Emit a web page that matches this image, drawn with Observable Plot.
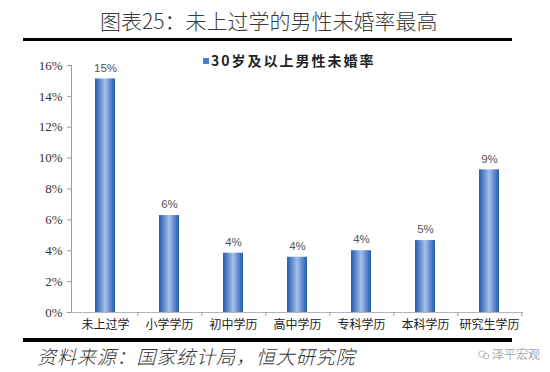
<!DOCTYPE html>
<html><head><meta charset="utf-8">
<script src="https://cdn.jsdelivr.net/npm/d3@7"></script>
<script src="https://cdn.jsdelivr.net/npm/@observablehq/plot@0.6"></script>
<style>
body{margin:0;background:#fff;}
#wrap{position:relative;width:550px;height:372px;overflow:hidden;font-family:"Noto Sans CJK SC",sans-serif;background:#fff;}
#title{position:absolute;left:100px;top:9px;font-size:21px;line-height:22px;color:#3a3a3a;font-weight:300;white-space:nowrap;}
.rule{position:absolute;left:23px;width:489px;height:3px;background:#000;}
#chart{position:absolute;left:0;top:44px;}
#legend{position:absolute;left:203px;top:51px;font-size:14px;line-height:18px;font-weight:700;color:#222;letter-spacing:2px;white-space:nowrap;}
#legend .sw{display:inline-block;width:6px;height:6px;background:#4f7fc2;margin-right:2px;vertical-align:2px;}
#caption{position:absolute;left:37px;top:344px;font-size:19px;line-height:24px;font-style:italic;font-weight:300;color:#333;letter-spacing:0.9px;white-space:nowrap;}
#wm{position:absolute;left:478px;top:346px;font-size:12px;line-height:16px;color:#aaa;white-space:nowrap;}
</style></head><body>
<div id="wrap">
  <div id="title">图表25：未上过学的男性未婚率最高</div>
  <div class="rule" style="top:38px"></div>
  <div id="chart"></div>
  <div id="legend"><span class="sw"></span>30岁及以上男性未婚率</div>
  <div class="rule" style="top:338px;height:4px"></div>
  <div id="caption">资料来源：国家统计局，恒大研究院</div>
  <div id="wm"><svg width="12" height="10" style="vertical-align:-1px;margin-right:2px"><circle cx="4" cy="4" r="3.2" fill="none" stroke="#bbb"/><circle cx="8" cy="6" r="2.8" fill="none" stroke="#bbb"/></svg>泽平宏观</div>
</div>
<script>
const categories = ["未上过学","小学学历","初中学历","高中学历","专科学历","本科学历","研究生学历"];
const rates = [0.1513, 0.0628, 0.0384, 0.0358, 0.0400, 0.0466, 0.0924];
const yTicks = [0, 0.02, 0.04, 0.06, 0.08, 0.10, 0.12, 0.14, 0.16];

const data = categories.map((c, i) => ({c, v: rates[i]}));
const W = 550, H = 292, ml = 71, mr = 27, mt = 21, mb = 24;
const step = (W - ml - mr) / categories.length;
const pct = d3.format(".0%");

const chart = Plot.plot({
  width: W, height: H,
  marginLeft: ml, marginRight: mr, marginTop: mt, marginBottom: mb,
  style: {background: "transparent", fontFamily: "'Noto Sans CJK SC', sans-serif", overflow: "visible"},
  x: {domain: categories, paddingInner: 0.69, paddingOuter: 0.345, label: null},
  y: {domain: [0, 0.16], label: null},
  marks: [
    Plot.frame({anchor: "left", stroke: "#9a9a9a"}),
    Plot.ruleY([0], {stroke: "#b5b5b5"}),
    Plot.axisY({ticks: yTicks, tickFormat: pct, tickSize: 4, tickPadding: 5, stroke: "#9a9a9a", fill: "#333", fontSize: 13, fontFamily: "'Liberation Serif', serif"}),
    Plot.axisX({tickSize: 4, tickFormat: () => "", dx: step / 2, stroke: "#9a9a9a"}),
    Plot.axisX({tickSize: 0, tickPadding: 8, fill: "#222", fontSize: 12}),
    Plot.barY(data, {x: "c", y: "v", fill: "url(#barGrad)"}),
    Plot.text(data, {x: "c", y: "v", text: d => pct(d.v), dy: -11, fontSize: 11.5, fill: "#555", fontFamily: "'Liberation Sans', sans-serif"})
  ]
});

const defs = d3.create("svg:defs");
const g = defs.append("linearGradient").attr("id", "barGrad").attr("x1", "0").attr("x2", "1").attr("y1", "0").attr("y2", "0");
[[0, "#2c5ca6"], [0.15, "#4679c4"], [0.5, "#a6c0e8"], [0.85, "#4679c4"], [1, "#2a58a0"]]
  .forEach(([o, c]) => g.append("stop").attr("offset", o).attr("stop-color", c));
chart.insertBefore(defs.node(), chart.firstChild);
document.getElementById("chart").appendChild(chart);
</script>
</body></html>
